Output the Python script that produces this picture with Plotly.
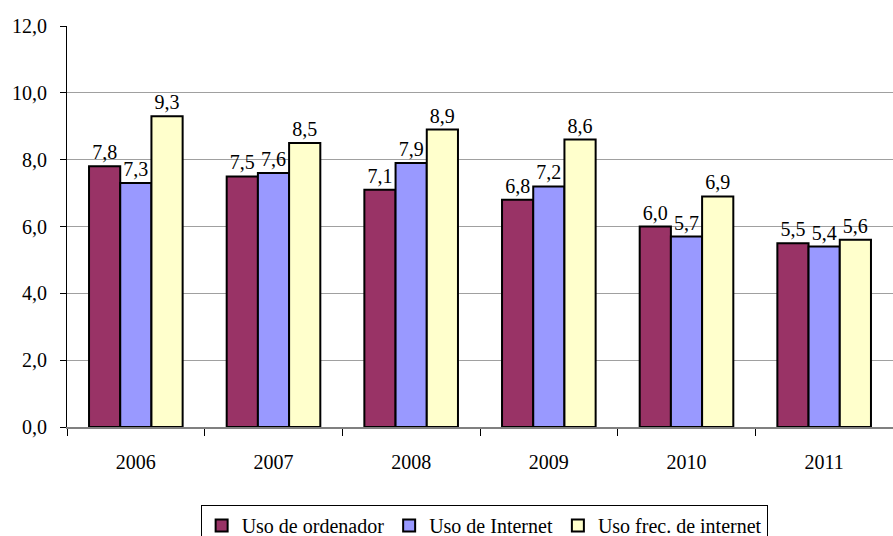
import plotly.graph_objects as go

years = ["2006", "2007", "2008", "2009", "2010", "2011"]
uso_ordenador = [7.8, 7.5, 7.1, 6.8, 6.0, 5.5]
uso_internet = [7.3, 7.6, 7.9, 7.2, 5.7, 5.4]
uso_frec_internet = [9.3, 8.5, 8.9, 8.6, 6.9, 5.6]

series = [
    ("Uso de ordenador", uso_ordenador, "#993366"),
    ("Uso de Internet", uso_internet, "#9999FF"),
    ("Uso frec. de internet", uso_frec_internet, "#FFFFCC"),
]

font = "Liberation Serif"
fig = go.Figure()
for name, vals, col in series:
    fig.add_trace(go.Bar(
        x=years, y=vals, name=name,
        marker=dict(color=col, line=dict(color="black", width=2)),
        text=[f"{v:.1f}".replace(".", ",") for v in vals],
        textposition="outside", cliponaxis=False,
        textfont=dict(family=font, size=20, color="black"),
    ))

fig.update_layout(
    width=893, height=536,
    margin=dict(l=67, r=0, t=26, b=109, autoexpand=False),
    paper_bgcolor="white", plot_bgcolor="white",
    barmode="group", bargap=0.32, bargroupgap=0,
    separators=",.",
    font=dict(family=font, size=20, color="black"),
    showlegend=True,
    legend=dict(
        orientation="h", x=0.505, xanchor="center", y=-0.1945, yanchor="top",
        bordercolor="black", borderwidth=1,
        font=dict(family=font, size=20),
        itemwidth=30, tracegroupgap=0,
    ),
    xaxis=dict(
        automargin=False,
        showline=True, linecolor="#808080", linewidth=2,
        ticks="outside", tickson="boundaries", ticklen=7, tickcolor="black",
        ticklabelstandoff=16,
        showgrid=False, tickfont=dict(family=font, size=20),
    ),
    yaxis=dict(
        automargin=False,
        range=[0, 12], dtick=2, tickformat=".1f",
        showline=True, linecolor="black", linewidth=1,
        ticks="outside", ticklen=6, tickcolor="black",
        ticklabelstandoff=9,
        showgrid=True, gridcolor="#A0A0A0", gridwidth=1,
        zeroline=False, tickfont=dict(family=font, size=20),
    ),
)
fig.write_html(
    "out.html",
    config={"displayModeBar": False},
    post_script="document.body.style.margin='0';document.body.style.overflow='hidden';",
)
